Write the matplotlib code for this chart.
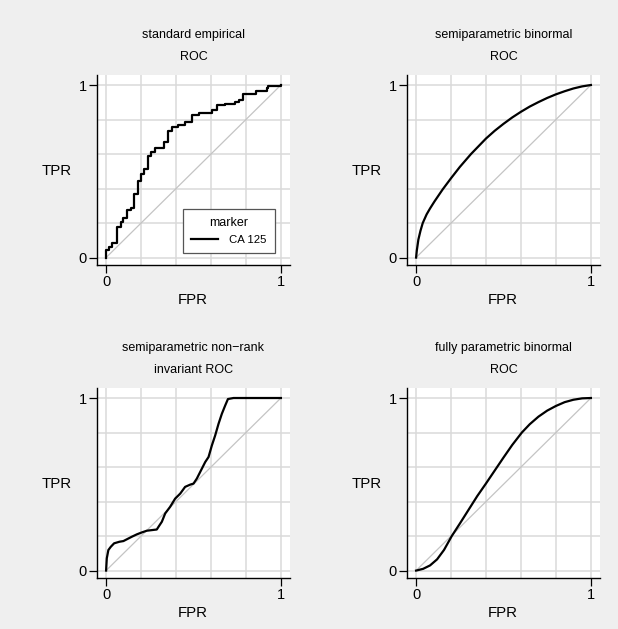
import matplotlib
matplotlib.use("Agg")
import matplotlib.pyplot as plt

plt.rcParams['font.family'] = ['Liberation Sans', 'DejaVu Sans']

# values
titles = [("standard empirical", "ROC"),
          ("semiparametric binormal", "ROC"),
          ("semiparametric non\u2212rank", "invariant ROC"),
          ("fully parametric binormal", "ROC")]

# standard empirical ROC: (FPR where the step happens, TPR after the step)
emp_fpr = [0, 0, 0.017, 0.036, 0.061, 0.084, 0.099, 0.122, 0.141, 0.162, 0.181,
           0.200, 0.219, 0.239, 0.258, 0.277, 0.334, 0.353, 0.376, 0.410, 0.452,
           0.490, 0.529, 0.605, 0.634, 0.681, 0.739, 0.758, 0.786, 0.857, 0.920,
           0.929, 1.0]
emp_tpr = [0, 0.044, 0.064, 0.087, 0.176, 0.208, 0.232, 0.276, 0.290, 0.367, 0.446,
           0.485, 0.512, 0.589, 0.614, 0.633, 0.672, 0.734, 0.755, 0.768, 0.788,
           0.826, 0.836, 0.855, 0.884, 0.890, 0.900, 0.913, 0.948, 0.967, 0.981,
           0.994, 1.0]

# semiparametric binormal ROC
sb_fpr = [0, 0.004, 0.013, 0.025, 0.038, 0.06, 0.08, 0.105, 0.152, 0.2, 0.25,
          0.314, 0.4, 0.45, 0.5, 0.55, 0.6, 0.65, 0.7, 0.75, 0.8, 0.85, 0.9,
          0.95, 1.0]
sb_tpr = [0, 0.04, 0.104, 0.155, 0.2, 0.25, 0.285, 0.325, 0.395, 0.46, 0.525,
          0.60, 0.69, 0.735, 0.775, 0.812, 0.845, 0.875, 0.901, 0.925, 0.946, 0.964,
          0.980, 0.992, 1.0]

# semiparametric non-rank invariant ROC
nr_fpr = [0, 0.004, 0.013, 0.027, 0.046, 0.076, 0.099, 0.122, 0.147, 0.176, 0.204,
          0.233, 0.290, 0.300, 0.319, 0.338, 0.366, 0.395, 0.424, 0.452, 0.481,
          0.500, 0.519, 0.538, 0.567, 0.586, 0.605, 0.624, 0.643, 0.662, 0.681,
          0.697, 0.729, 1.0]
nr_tpr = [0, 0.071, 0.119, 0.138, 0.158, 0.167, 0.171, 0.183, 0.196, 0.210, 0.221,
          0.231, 0.238, 0.254, 0.283, 0.331, 0.369, 0.417, 0.446, 0.485, 0.498,
          0.504, 0.533, 0.571, 0.629, 0.658, 0.725, 0.783, 0.850, 0.908, 0.956,
          0.994, 1.0, 1.0]

# fully parametric binormal ROC
fp_fpr = [0, 0.04, 0.08, 0.12, 0.16, 0.204, 0.25, 0.30, 0.35, 0.40, 0.45, 0.50,
          0.55, 0.605, 0.65, 0.70, 0.75, 0.80, 0.85, 0.90, 0.95, 1.0]
fp_tpr = [0, 0.010, 0.030, 0.065, 0.12, 0.20, 0.272, 0.352, 0.432, 0.505, 0.58,
          0.655, 0.728, 0.80, 0.848, 0.892, 0.927, 0.954, 0.976, 0.99, 0.998, 1.0]

curves = [(emp_fpr, emp_tpr), (sb_fpr, sb_tpr), (nr_fpr, nr_tpr), (fp_fpr, fp_tpr)]

bg = '#efefef'
fig = plt.figure(figsize=(6.18, 6.29), dpi=100, facecolor=bg)

W, H = 618, 629
lefts = [97, 407]
tops = [75, 388]
aw, ah = 193, 190

grid = [0, 0.2, 0.4, 0.6, 0.8, 1.0]

for i in range(4):
    r, c = divmod(i, 2)
    ax = fig.add_axes([lefts[c] / W, 1 - (tops[r] + ah) / H, aw / W, ah / H])
    ax.set_facecolor('white')
    ax.set_xlim(-0.052, 1.052)
    ax.set_ylim(-0.043, 1.058)
    for g in grid:
        ax.axvline(g, color='#dadada', lw=1.1, zorder=0)
        ax.axhline(g, color='#dadada', lw=1.1, zorder=0)
    ax.plot([0, 1], [0, 1], color='#c4c4c4', lw=0.9, zorder=1)

    x, y = curves[i]
    if i == 0:
        ax.plot(x, y, color='black', lw=1.6, drawstyle='steps-post', label='CA 125', zorder=2)
        leg = ax.legend(loc='lower right', bbox_to_anchor=(0.95, 0.035), title='marker',
                        fontsize=8.2, title_fontsize=9, fancybox=False, framealpha=1,
                        edgecolor='#555555', handlelength=2.4, borderpad=0.7,
                        handletextpad=1.0)
        leg.get_frame().set_linewidth(0.9)
    else:
        ax.plot(x, y, color='black', lw=1.6, zorder=2, solid_joinstyle='round')

    for s in ['top', 'right']:
        ax.spines[s].set_visible(False)
    for s in ['left', 'bottom']:
        ax.spines[s].set_linewidth(1.0)
    ax.set_xticks([0, 1])
    ax.set_yticks([0, 1])
    ax.set_xticklabels(['0', '1'])
    ax.set_yticklabels(['0', '1'])
    ax.tick_params(length=5.5, width=0.9, labelsize=10.5, pad=2)

    ax.set_xlabel('FPR', fontsize=10.8, va='center')
    ax.xaxis.set_label_coords(0.497, -0.184)
    ax.set_ylabel('TPR', fontsize=10.8, rotation=0, ha='center', va='center')
    ax.yaxis.set_label_coords(-0.207, 0.495)

    l1, l2 = titles[i]
    ax.annotate(l1, xy=(0.5, 1), xycoords='axes fraction', xytext=(0, 40 * 0.72),
                textcoords='offset points', ha='center', va='center', fontsize=9)
    ax.annotate(l2, xy=(0.5, 1), xycoords='axes fraction', xytext=(0, 18 * 0.72),
                textcoords='offset points', ha='center', va='center', fontsize=9)

fig.savefig('out.png', dpi=100, facecolor=bg)
